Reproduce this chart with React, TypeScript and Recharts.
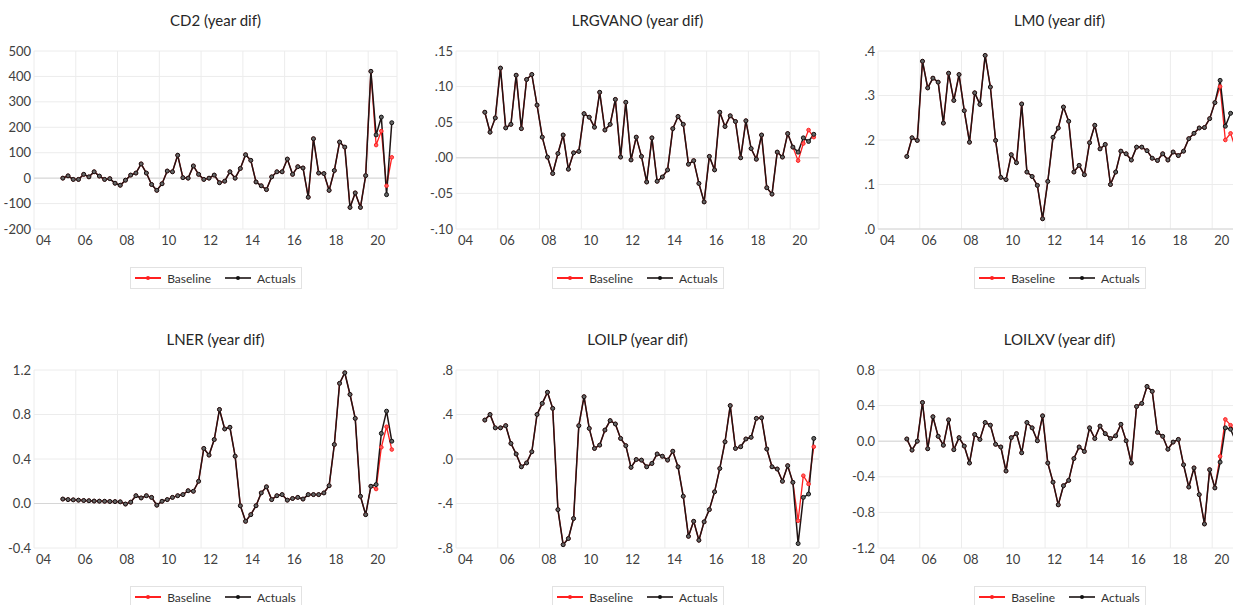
import { LineChart, Line, XAxis, YAxis, CartesianGrid, ReferenceLine } from "recharts";

// quarterly data, 2005Q1 .. 2020Q4
const START_YEAR = 2005;
const labelYears = [2004, 2006, 2008, 2010, 2012, 2014, 2016, 2018, 2020];
// EViews puts the year gridline a bit before the first quarter
const GRID_SHIFT = -0.38;
const X_MIN = 2003.62;
const X_MAX = 2021.0;

const cd2Actuals = [
  0, 9, -5, -5, 15, 5, 25, 8, -5, -2, -20, -28, -8, 12, 20, 56, 20, -25, -48, -22,
  28, 25, 90, 2, 0, 48, 15, -5, 0, 12, -18, -12, 25, 0, 38, 92, 70, -15, -30, -45,
  5, 25, 25, 75, 15, 45, 40, -75, 155, 20, 18, -48, 30, 142, 122, -115, -58, -115, 10, 420,
  170, 240, -65, 218,
];
const cd2BaselineTail = [130, 185, -30, 82];

const lrgvanoActuals = [
  0.064, 0.036, 0.056, 0.126, 0.042, 0.047, 0.116, 0.041, 0.11, 0.117,
  0.074, 0.029, 0.001, -0.022, 0.006, 0.032, -0.016, 0.007, 0.009, 0.062,
  0.057, 0.043, 0.092, 0.039, 0.047, 0.082, 0.001, 0.078, -0.003, 0.029,
  0.002, -0.034, 0.028, -0.033, -0.027, -0.017, 0.041, 0.058, 0.047, -0.009,
  -0.004, -0.036, -0.062, 0.002, -0.017, 0.064, 0.044, 0.059, 0.051, 0.0,
  0.052, 0.013, -0.002, 0.032, -0.042, -0.051, 0.008, 0.001, 0.034, 0.015,
  0.008, 0.028, 0.023, 0.033,
];
const lrgvanoBaselineTail = [-0.004, 0.02, 0.039, 0.029];

const lm0Actuals = [
  0.163, 0.205, 0.199, 0.377, 0.317, 0.339, 0.33, 0.238, 0.35, 0.289,
  0.347, 0.266, 0.195, 0.306, 0.28, 0.39, 0.319, 0.199, 0.116, 0.111,
  0.167, 0.149, 0.281, 0.128, 0.118, 0.098, 0.023, 0.107, 0.206, 0.227,
  0.274, 0.242, 0.128, 0.143, 0.122, 0.194, 0.233, 0.18, 0.19, 0.1,
  0.128, 0.175, 0.169, 0.155, 0.184, 0.184, 0.176, 0.159, 0.154, 0.169,
  0.155, 0.173, 0.165, 0.175, 0.203, 0.215, 0.227, 0.228, 0.248, 0.284,
  0.334, 0.231, 0.26, 0.262,
];
const lm0BaselineTail = [0.32, 0.2, 0.215, 0.18];

const lnerActuals = [
  0.04, 0.035, 0.033, 0.03, 0.027, 0.025, 0.022, 0.021, 0.02, 0.018,
  0.017, 0.015, -0.005, 0.012, 0.07, 0.05, 0.07, 0.055, -0.015, 0.02,
  0.035, 0.055, 0.07, 0.08, 0.115, 0.11, 0.2, 0.495, 0.435, 0.575,
  0.845, 0.67, 0.685, 0.425, -0.02, -0.16, -0.1, -0.02, 0.095, 0.15,
  0.035, 0.07, 0.08, 0.03, 0.045, 0.055, 0.04, 0.08, 0.08, 0.08,
  0.095, 0.16, 0.53, 1.08, 1.175, 0.98, 0.765, 0.065, -0.1, 0.155,
  0.17, 0.63, 0.83, 0.56,
];
const lnerBaselineTail = [0.13, 0.505, 0.69, 0.485];

const loilpActuals = [
  0.35, 0.4, 0.28, 0.28, 0.3, 0.14, 0.045, -0.07, -0.035, 0.065,
  0.4, 0.5, 0.6, 0.455, -0.455, -0.77, -0.715, -0.535, 0.3, 0.56,
  0.275, 0.095, 0.125, 0.26, 0.345, 0.315, 0.185, 0.12, -0.075, -0.005,
  -0.01, -0.07, -0.04, 0.045, 0.025, -0.01, 0.07, -0.07, -0.335, -0.695,
  -0.56, -0.73, -0.565, -0.455, -0.295, -0.085, 0.155, 0.48, 0.095, 0.11,
  0.18, 0.195, 0.365, 0.37, 0.09, -0.07, -0.09, -0.2, -0.06, -0.21,
  -0.76, -0.345, -0.315, 0.185,
];
const loilpBaselineTail = [-0.555, -0.15, -0.225, 0.11];

const loilxvActuals = [
  0.025, -0.1, 0.0, 0.435, -0.085, 0.275, 0.055, -0.045, 0.24, -0.095,
  0.04, -0.055, -0.245, 0.075, 0.02, 0.21, 0.18, -0.035, -0.065, -0.335,
  0.04, 0.085, -0.13, 0.21, 0.15, 0.005, 0.285, -0.245, -0.46, -0.715,
  -0.5, -0.44, -0.195, -0.065, -0.115, 0.15, 0.03, 0.17, 0.085, 0.03,
  0.06, 0.19, 0.005, -0.245, 0.39, 0.425, 0.615, 0.56, 0.1, 0.055,
  -0.09, -0.01, 0.02, -0.265, -0.515, -0.3, -0.6, -0.93, -0.32, -0.525,
  -0.235, 0.15, 0.135, 0.0,
];
const loilxvBaselineTail = [-0.17, 0.245, 0.18, 0.1];

const cd2Ticks = [-200, -100, 0, 100, 200, 300, 400, 500];
const lrgvanoTicks = [-0.1, -0.05, 0, 0.05, 0.1, 0.15];
const lm0Ticks = [0, 0.1, 0.2, 0.3, 0.4];
const lnerTicks = [-0.4, 0, 0.4, 0.8, 1.2];
const loilpTicks = [-0.8, -0.4, 0, 0.4, 0.8];
const loilxvTicks = [-1.2, -0.8, -0.4, 0, 0.4, 0.8];

const FONT = "Lato, 'Open Sans', sans-serif";
const PLOT_W = 363;
const PLOT_H = 178;
const Y_W = 44;
const M_TOP = 8;
const X_H = 24;

const withTail = (actuals: number[], tail: number[]) =>
  actuals.map((v, i) => (i >= actuals.length - tail.length ? tail[i - (actuals.length - tail.length)] : v));

const noLead = (d: number) => (v: number) => v.toFixed(d).replace("0.", ".");

const XTick = (props: any) => {
  const { x, y, payload } = props;
  const year = Math.round(payload.value - GRID_SHIFT);
  return (
    <text x={x + 2} y={y + 16} fontSize={13} fill="#404040" fontFamily={FONT}>
      {String(year).slice(2)}
    </text>
  );
};

type PanelProps = {
  title: string;
  actuals: number[];
  baselineTail: number[];
  ticks: number[];
  fmt: (v: number) => string;
  left: number;
  top: number;
};

function Panel({ title, actuals, baselineTail, ticks, fmt, left, top }: PanelProps) {
  const baseline = withTail(actuals, baselineTail);
  const data = actuals.map((v, i) => ({
    t: START_YEAR + i / 4,
    actual: v,
    baseline: baseline[i],
  }));
  const xTicks = labelYears.map((y) => y + GRID_SHIFT);

  return (
    <>
      <div
        style={{
          position: "absolute",
          left: left,
          top: top - 40,
          width: PLOT_W,
          lineHeight: "18px",
          textAlign: "center",
          fontSize: 15,
          color: "#262626",
        }}
      >
        {title}
      </div>

      <div style={{ position: "absolute", left: left - Y_W, top: top - M_TOP }}>
        <LineChart
          width={Y_W + PLOT_W + 6}
          height={M_TOP + PLOT_H + X_H}
          data={data}
          margin={{ top: M_TOP, right: 6, bottom: 0, left: 0 }}
        >
          <CartesianGrid stroke="#ececec" />
          <XAxis
            dataKey="t"
            type="number"
            domain={[X_MIN, X_MAX]}
            ticks={xTicks}
            interval={0}
            allowDataOverflow
            height={X_H}
            tickLine={false}
            axisLine={false}
            tickSize={0}
            tickMargin={0}
            tick={<XTick />}
          />
          <YAxis
            type="number"
            domain={[ticks[0], ticks[ticks.length - 1]]}
            ticks={ticks}
            interval={0}
            width={Y_W}
            tickLine={false}
            axisLine={false}
            tickSize={0}
            tickMargin={3}
            tickFormatter={fmt}
            tick={{ fontSize: 13, fill: "#404040", fontFamily: FONT }}
          />
          <ReferenceLine y={0} stroke="#d6d6d6" />
          <Line
            dataKey="baseline"
            stroke="#ff2020"
            strokeWidth={1.3}
            dot={{ r: 1.8, stroke: "#ff2020", strokeWidth: 1, fill: "#ff6060" }}
            isAnimationActive={false}
          />
          <Line
            dataKey="actual"
            stroke="#1f1414"
            strokeWidth={1.5}
            dot={{ r: 2, stroke: "#111", strokeWidth: 1, fill: "#666" }}
            isAnimationActive={false}
          />
        </LineChart>
      </div>

      <div
        style={{
          position: "absolute",
          left: left + PLOT_W / 2 - 86,
          top: top + 216,
          width: 172,
          height: 22,
          boxSizing: "border-box",
          border: "1px solid #e2e2e2",
          display: "flex",
          alignItems: "center",
          justifyContent: "center",
          gap: 14,
          fontSize: 12,
          color: "#333",
        }}
      >
        <span style={{ display: "flex", alignItems: "center", gap: 6 }}>
          <svg width={26} height={8}>
            <line x1={0} y1={4} x2={26} y2={4} stroke="#ff2020" strokeWidth={2} />
            <circle cx={13} cy={4} r={2} fill="#ff2020" />
          </svg>
          Baseline
        </span>
        <span style={{ display: "flex", alignItems: "center", gap: 6 }}>
          <svg width={26} height={8}>
            <line x1={0} y1={4} x2={26} y2={4} stroke="#1a1212" strokeWidth={1.6} />
            <circle cx={13} cy={4} r={2} fill="#111" />
          </svg>
          Actuals
        </span>
      </div>
    </>
  );
}

export default function App() {
  const rowTop = [51, 370];
  const colLeft = [34, 456, 878];
  return (
    <div
      style={{
        position: "absolute",
        left: 0,
        top: 0,
        width: 1233,
        height: 605,
        overflow: "hidden",
        background: "#fff",
        fontFamily: FONT,
      }}
    >
      <Panel title="CD2 (year dif)" actuals={cd2Actuals} baselineTail={cd2BaselineTail}
        ticks={cd2Ticks} fmt={(v) => String(v)} left={colLeft[0]} top={rowTop[0]} />
      <Panel title="LRGVANO (year dif)" actuals={lrgvanoActuals} baselineTail={lrgvanoBaselineTail}
        ticks={lrgvanoTicks} fmt={noLead(2)} left={colLeft[1]} top={rowTop[0]} />
      <Panel title="LM0 (year dif)" actuals={lm0Actuals} baselineTail={lm0BaselineTail}
        ticks={lm0Ticks} fmt={noLead(1)} left={colLeft[2]} top={rowTop[0]} />
      <Panel title="LNER (year dif)" actuals={lnerActuals} baselineTail={lnerBaselineTail}
        ticks={lnerTicks} fmt={(v) => v.toFixed(1)} left={colLeft[0]} top={rowTop[1]} />
      <Panel title="LOILP (year dif)" actuals={loilpActuals} baselineTail={loilpBaselineTail}
        ticks={loilpTicks} fmt={noLead(1)} left={colLeft[1]} top={rowTop[1]} />
      <Panel title="LOILXV (year dif)" actuals={loilxvActuals} baselineTail={loilxvBaselineTail}
        ticks={loilxvTicks} fmt={(v) => v.toFixed(1)} left={colLeft[2]} top={rowTop[1]} />
    </div>
  );
}
